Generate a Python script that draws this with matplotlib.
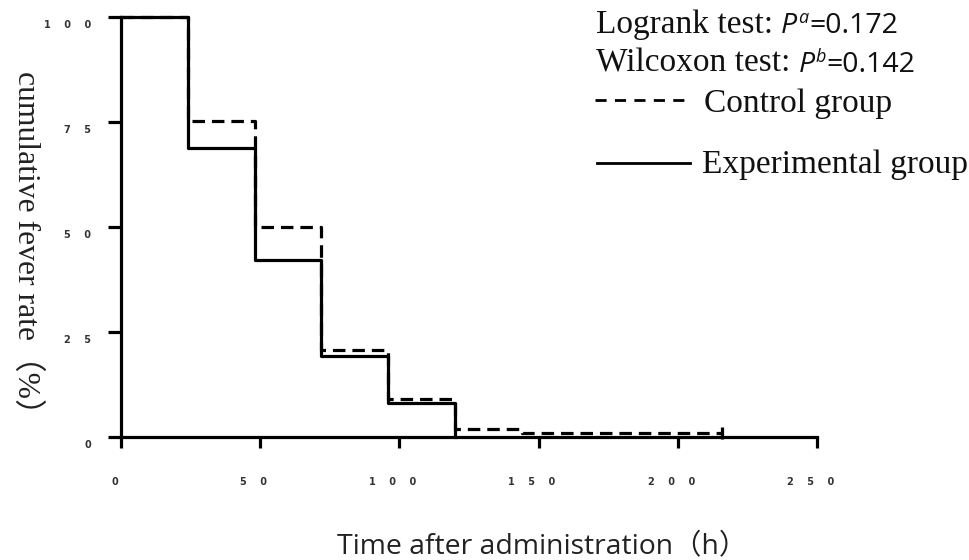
import matplotlib
matplotlib.use("Agg")
import matplotlib.pyplot as plt
from matplotlib.lines import Line2D
from matplotlib.transforms import ScaledTranslation

# ---------------- data ----------------
control_times = [0, 24, 48, 72, 96, 120, 144, 216]
control_rate = [100, 75.3, 50.0, 20.6, 9.0, 1.8, 0.9, 0.9]
exp_times = [0, 24, 48, 72, 96, 120]
exp_rate = [100, 68.8, 42.1, 19.2, 8.0, 0.0]
censor_time = [216]
censor_rate = [0.9]
x_ticks = [0, 50, 100, 150, 200, 250]
y_ticks = [0, 25, 50, 75, 100]
x_ticklabels = ["0", "50", "100", "150", "200", "250"]
y_ticklabels = ["0", "25", "50", "75", "100"]
stat_lines = [("Logrank test:", "a", "=0.172"), ("Wilcoxon test:", "b", "=0.142")]
legend_labels = ["Control group", "Experimental group"]
xlabel = "Time after administration（h）"
ylabel = "cumulative fever rate（%）"

W, H = 969, 560
plt.rcParams["lines.scale_dashes"] = False
fig = plt.figure(figsize=(W / 100, H / 100), dpi=100)
ax = fig.add_axes([121 / W, (H - 437) / H, 696 / W, 420 / H])

LW = 2.3
DASH = (9, 5)
ax.step(control_times, control_rate, where="post", color="black", lw=LW,
        linestyle=(0, DASH), clip_on=False, solid_capstyle="butt")
ax.step(exp_times, exp_rate, where="post", color="black", lw=LW,
        clip_on=False)
ax.plot(censor_time, censor_rate, marker="|", markersize=8, mew=LW,
        color="black", linestyle="none", clip_on=False)

ax.set_xlim(0, 250)
ax.set_ylim(0, 100)
for s in ["top", "right"]:
    ax.spines[s].set_visible(False)
for s in ["left", "bottom"]:
    ax.spines[s].set_linewidth(LW)

def spaced(s):
    return "    ".join(list(s))

ax.set_xticks(x_ticks)
ax.set_xticklabels([spaced(t) for t in x_ticklabels])
ax.set_yticks(y_ticks)
ax.set_yticklabels([spaced(t) for t in y_ticklabels])
ax.tick_params(axis="both", direction="out", width=LW, color="black",
               labelsize=7, labelcolor="#333333")
ax.tick_params(axis="y", length=9.4, pad=12)
ax.tick_params(axis="x", length=8, pad=21)
for lab in ax.get_yticklabels():
    lab.set_fontweight("bold")
    lab.set_transform(lab.get_transform() + ScaledTranslation(0, -0.07, fig.dpi_scale_trans))
for lab in ax.get_xticklabels():
    lab.set_fontweight("bold")
    lab.set_transform(lab.get_transform() + ScaledTranslation(-0.065, 0, fig.dpi_scale_trans))

# axis labels
fig.text(542 / W, 1 - 546 / H, xlabel, ha="center", va="center", fontsize=20.4,
         family=["Open Sans", "Noto Sans CJK SC"], color="#222222")
fig.text(26 / W, 1 - 250 / H, ylabel, ha="center", va="center", rotation=270,
         fontsize=22.8, family=["Liberation Serif", "Noto Sans CJK SC"], color="#222222")

# statistics text (mixed fonts)
fig.canvas.draw()
r = fig.canvas.get_renderer()

def put(x_px, y_px, s, **kw):
    t = fig.text(x_px / W, 1 - y_px / H, s, ha="left", va="baseline", **kw)
    bb = t.get_window_extent(r)
    return x_px + bb.width

serif = dict(family="Liberation Serif", fontsize=24, color="#111111")
sans = dict(family="Open Sans", fontsize=20.5, color="#111111")
for (lead, sup, val), base in zip(stat_lines, [33, 72]):
    x = put(596, base, lead, **serif)
    x += 8
    x = put(x, base, "P", style="italic", **sans)
    x = put(x + 1, base - 10, sup, style="italic", family="Open Sans", fontsize=13, color="#111111")
    put(x + 1, base, val, **sans)

# legend
fig.add_artist(Line2D([595 / W, 688 / W], [1 - 100 / H] * 2, transform=fig.transFigure,
                      color="black", lw=2.0, linestyle=(0, (8, 6))))
fig.add_artist(Line2D([597 / W, 690 / W], [1 - 163 / H] * 2, transform=fig.transFigure,
                      color="black", lw=2.0))
put(704, 112, legend_labels[0], **serif)
put(702, 173, legend_labels[1], **serif)

fig.savefig("out.png", dpi=100, facecolor="white")
